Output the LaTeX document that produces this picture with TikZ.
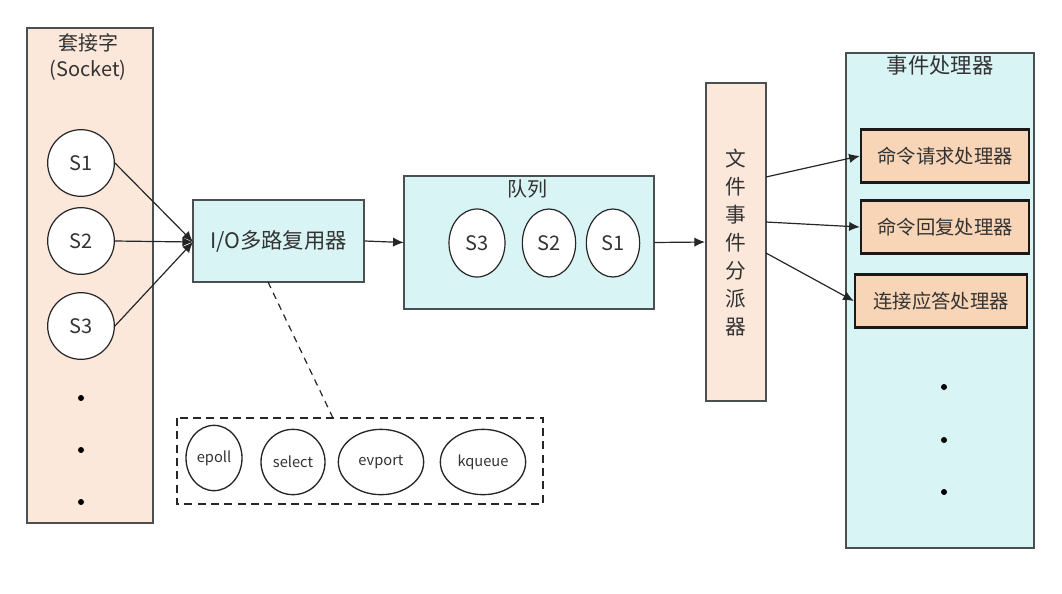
\documentclass[tikz,border=0pt]{standalone}
\usepackage{fontspec}
\setmainfont{Noto Sans CJK SC}
\usetikzlibrary{arrows.meta,shapes.geometric}
\definecolor{peach}{HTML}{FBE8DA}
\definecolor{cyanf}{HTML}{D9F4F4}
\definecolor{hand}{HTML}{F8D5B6}
\definecolor{edge}{HTML}{4A4F52}
\definecolor{txt}{HTML}{333333}
\begin{document}
\begin{tikzpicture}[x=0.75pt,y=-0.75pt,
  panel/.style={draw=edge,line width=1.5pt},
  sock/.style={circle,draw=black!85,fill=white,line width=0.9pt,minimum size=50pt,inner sep=0pt,font=\fontsize{15}{17}\selectfont,text=txt},
  qell/.style={ellipse,draw=black!85,fill=white,line width=0.9pt,minimum width=40pt,minimum height=51pt,inner sep=0pt,font=\fontsize{15}{17}\selectfont,text=txt},
  small/.style={ellipse,draw=black!85,fill=white,line width=1pt,minimum height=49pt,inner sep=0pt,font=\fontsize{11}{12}\selectfont,text=txt},
  handbox/.style={draw=black!90,fill=hand,line width=1.8pt,minimum width=126pt,minimum height=40pt,inner sep=0pt,font=\fontsize{14.5}{16}\selectfont,text=txt},
  lab/.style={font=\fontsize{15}{17}\selectfont,text=txt},
  arr/.style={-{Latex[length=8pt,width=7pt]},line width=0.9pt,draw=black!85},
  dotn/.style={circle,fill=black,inner sep=0pt,minimum size=4.5pt}
]
\useasboundingbox (0,0) rectangle (1062,593);
% socket panel
\draw[panel,fill=peach] (27,28) rectangle (153,523);
\node[lab] (sockt) at (88,43) {套接字};
\node[lab] (sockp) at (88,70) {(Socket)};
\node[sock] (s1) at (81,163) {S1};
\node[sock] (s2) at (81,241) {S2};
\node[sock] (s3) at (81,326) {S3};
\node[dotn] (d1) at (81,398) {};
\node[dotn] (d2) at (81,450) {};
\node[dotn] (d3) at (81,502) {};
% IO multiplexer
\node[draw=edge,line width=1.5pt,fill=cyanf,minimum width=128pt,minimum height=61.5pt,inner sep=0pt,lab,font=\fontsize{16}{18}\selectfont] (io) at (278.5,241) {I/O多路复用器};
\coordinate (ioin) at (193,242);
\draw[arr] (s1.east) -- (ioin);
\draw[arr] (s2.east) -- (ioin);
\draw[arr] (s3.east) -- (ioin);
% queue
\draw[panel,fill=cyanf] (404,176) rectangle (654,309);
\node[draw=none,minimum width=187.5pt,minimum height=100pt] (queue) at (529,242.5) {};
\node[lab] (qt) at (527,189) {队列};
\node[qell,minimum width=42pt] (q3) at (477,243) {S3};
\node[qell] (q2) at (549,243) {S2};
\node[qell] (q1) at (613,243) {S1};
\draw[arr] (io.east) -- (queue.west);
% dispatcher
\node[draw=edge,line width=1.5pt,fill=peach,minimum width=45pt,minimum height=238.5pt,inner sep=0pt] (disp) at (736,242) {};
\node[lab,align=center,font=\fontsize{15.5}{21}\selectfont] (dispt) at (736,243) {文\\件\\事\\件\\分\\派\\器};
\draw[arr] (queue.east) -- (disp.west);
% handler panel
\draw[panel,fill=cyanf] (846,53) rectangle (1034,548);
\node[lab,font=\fontsize{16}{18}\selectfont] (ht) at (940,65) {事件处理器};
\node[handbox] (h1) at (945,156) {命令请求处理器};
\node[handbox] (h2) at (945,227) {命令回复处理器};
\node[handbox,minimum width=129pt] (h3) at (941,301) {连接应答处理器};
\node[dotn] (e1) at (944,387) {};
\node[dotn] (e2) at (944,440) {};
\node[dotn] (e3) at (944,492) {};
\coordinate (o1) at (766,177);
\coordinate (o2) at (766,222);
\coordinate (o3) at (766,253);
\draw[arr] (o1) -- (h1.west);
\draw[arr] (o2) -- (h2.west);
\draw[arr] (o3) -- (h3.west);
% implementations
\draw[draw=black!85,line width=1.3pt,dash pattern=on 6pt off 4pt] (177,418) rectangle (543,504);
\coordinate (impl) at (333,418);
\draw[draw=black!85,line width=0.9pt,dash pattern=on 5pt off 4pt] (268,282) -- (impl);
\node[small,minimum width=42pt] (ep) at (214,458) {epoll};
\node[small,minimum width=48pt] (se) at (293,462) {select};
\node[small,minimum width=64pt] (ev) at (381,462) {evport};
\node[small,minimum width=64pt] (kq) at (483,462) {kqueue};
\end{tikzpicture}
\end{document}
